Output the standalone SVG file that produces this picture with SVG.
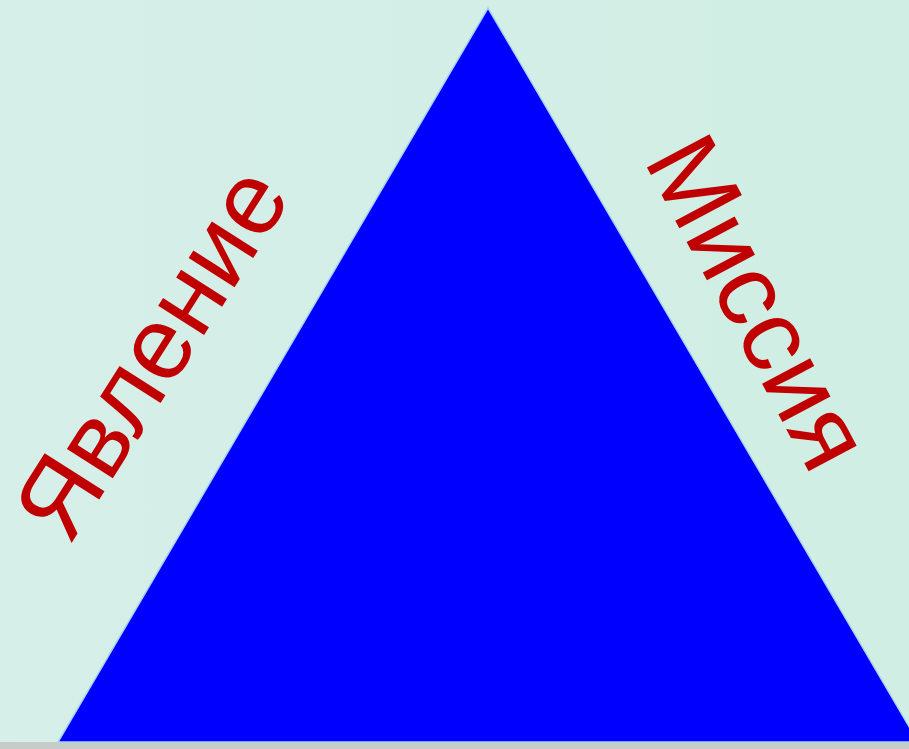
<svg xmlns="http://www.w3.org/2000/svg" width="909" height="749" viewBox="0 0 909 749">
  <style>
    .lbl { font-family: "Liberation Sans", Arial, sans-serif; font-size: 103px; fill: #c00000; }
  </style>
  <defs>
    <linearGradient id="bg" x1="0" y1="0" x2="1" y2="0">
      <stop offset="0" stop-color="#d6efe9"/>
      <stop offset="1" stop-color="#d0eee4"/>
    </linearGradient>
  </defs>
  <rect x="0" y="0" width="909" height="749" fill="url(#bg)"/>
  <rect x="0" y="742" width="909" height="7" fill="#c6cdc9"/>
  <g id="triangle">
    <polygon points="488,8 58,742 918,742" fill="#0000ff" stroke="#a6d4ee" stroke-width="1.5"/>
  </g>
  <g id="label-yavlenie">
    <text class="lbl" transform="translate(69,547) rotate(-57.5)">Явление</text>
  </g>
  <g id="label-missiya">
    <text class="lbl" transform="translate(643,160) rotate(62)">Миссия</text>
  </g>
  <g id="connectors"/>
</svg>
